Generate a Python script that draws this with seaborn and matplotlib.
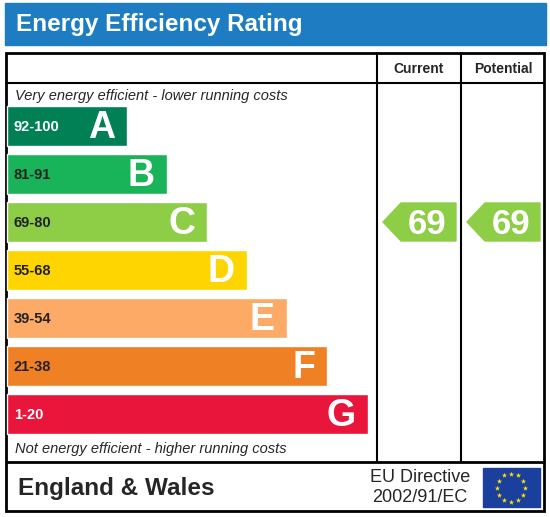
import numpy as np
import seaborn as sns
import matplotlib.pyplot as plt
from matplotlib.patches import Rectangle, Polygon

sns.set_theme(style="white")
plt.rcParams['font.family'] = ['Liberation Sans', 'DejaVu Sans']

# bands of the rating scale
letters = ["A", "B", "C", "D", "E", "F", "G"]
ranges = ["92-100", "81-91", "69-80", "55-68", "39-54", "21-38", "1-20"]
colors = ["#008054", "#19b459", "#8dce46", "#ffd500", "#fcaa65", "#ef8023", "#e9153b"]
bar_ends = [127, 167, 207, 247, 287, 327, 368]
current = 69
potential = 69

def band_of(score):
    lows = [92, 81, 69, 55, 39, 21, 1]
    for i, lo in enumerate(lows):
        if score >= lo:
            return i
    return 6

fig = plt.figure(figsize=(5.5, 5.17), dpi=100)
ax = fig.add_axes([0, 0, 1, 1])
ax.set_xlim(0, 550)
ax.set_ylim(517, 0)
ax.axis("off")

# title bar
ax.add_patch(Rectangle((5, 3), 541, 42, color="#1e7dc2"))
ax.text(16, 25, "Energy Efficiency Rating", color="white", fontsize=17.5, fontweight="bold", va="center")

# frame and grid lines
ax.add_patch(Rectangle((6, 53), 538, 458, fill=False, lw=2, ec="black"))
ax.plot([6, 544], [83, 83], color="black", lw=1.5)
ax.plot([6, 544], [462, 462], color="black", lw=2)
ax.plot([377, 377], [53, 462], color="black", lw=1.5)
ax.plot([461, 461], [53, 462], color="black", lw=1.5)
ax.text(419, 69, "Current", fontsize=10, fontweight="bold", ha="center", va="center")
ax.text(503, 69, "Potential", fontsize=10, fontweight="bold", ha="center", va="center")

ax.text(15, 96, "Very energy efficient - lower running costs", fontsize=10.5, style="italic", va="center")
ax.text(15, 449, "Not energy efficient - higher running costs", fontsize=10.5, style="italic", va="center")

# rating bands
ys = 126 + 48 * np.arange(7)
ax.barh(ys, np.array(bar_ends) - 7, left=7, height=40, color=colors)
for y, end, L, r in zip(ys, bar_ends, letters, ranges):
    ax.text(14, y + 1, r, fontsize=10.5, fontweight="bold", va="center",
            color="white" if L in "AG" else "#222222")
    ax.text(end - 12, y + 2, L, fontsize=27, fontweight="bold", color="white", ha="right", va="center")

# arrows for current and potential
for score, x0 in [(current, 383), (potential, 467)]:
    y = ys[band_of(score)]
    c = colors[band_of(score)]
    ax.add_patch(Polygon([(x0, y), (x0 + 18, y - 19), (x0 + 73, y - 19), (x0 + 73, y + 19), (x0 + 18, y + 19)],
                         closed=True, color=c))
    ax.text(x0 + 44, y + 2, str(score), fontsize=25, fontweight="bold", color="white", ha="center", va="center")

# footer
ax.text(18, 488, "England & Wales", fontsize=17.5, fontweight="bold", va="center")
ax.text(420, 478, "EU Directive", fontsize=13, ha="center", va="center")
ax.text(420, 497, "2002/91/EC", fontsize=13, ha="center", va="center")
ax.add_patch(Rectangle((483, 468), 57, 39, color="#1b3f9c"))
ang = np.linspace(0, 2 * np.pi, 13)[:-1]
ax.scatter(511 + 14 * np.cos(ang), 487.5 + 14 * np.sin(ang), marker="*", s=16, color="#ffe600", lw=0)

fig.savefig("out.png", dpi=100)
